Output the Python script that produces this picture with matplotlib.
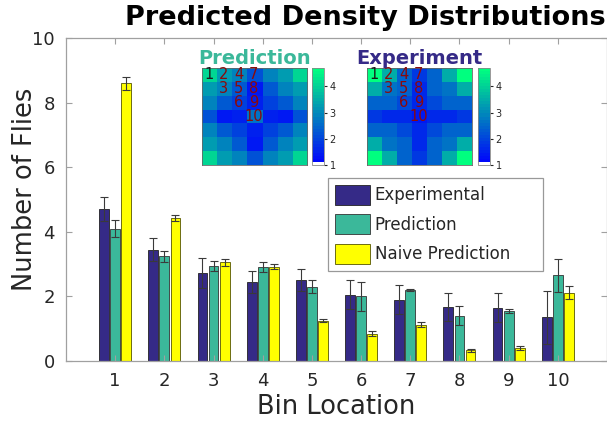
import numpy as np
import matplotlib
matplotlib.use("Agg")
import matplotlib.pyplot as plt
from matplotlib.colors import ListedColormap

# bar data
bins = np.arange(1, 11)
experimental = [4.7, 3.45, 2.72, 2.45, 2.5, 2.05, 1.9, 1.68, 1.65, 1.35]
experimental_err = [0.38, 0.35, 0.46, 0.33, 0.34, 0.45, 0.45, 0.44, 0.45, 0.82]
prediction = [4.1, 3.25, 2.95, 2.9, 2.3, 2.0, 2.2, 1.4, 1.55, 2.65]
prediction_err = [0.25, 0.17, 0.15, 0.15, 0.2, 0.45, 0.03, 0.3, 0.07, 0.5]
naive = [8.6, 4.42, 3.05, 2.92, 1.25, 0.85, 1.13, 0.33, 0.4, 2.12]
naive_err = [0.2, 0.1, 0.12, 0.08, 0.05, 0.07, 0.08, 0.04, 0.05, 0.2]

# arena cell (row, col) of each bin in one octant of the 7x7 grid
bin_cells = [(0, 0), (0, 1), (1, 1), (0, 2), (1, 2), (2, 2), (0, 3), (1, 3), (2, 3), (3, 3)]

c_exp = "#352a87"
c_pred = "#3bb89a"
c_naive = "#ffff00"
txt = "#262626"
spine = "#a0a0a0"


def arena_grid(values):
    # fill the symmetric 7x7 arena from the 10 bin values
    lookup = {cell: v for cell, v in zip(bin_cells, values)}
    grid = np.zeros((7, 7))
    for i in range(7):
        for j in range(7):
            a, b = sorted((min(i, 6 - i), min(j, 6 - j)))
            grid[i, j] = lookup[(a, b)]
    return grid


winter = plt.get_cmap("winter")(np.linspace(0, 1, 32))
winter[0] = [1, 1, 1, 1]
cmap = ListedColormap(winter)

fig = plt.figure(figsize=(6.07, 4.21), dpi=100)
W, H = 607, 421
ax = fig.add_axes([66 / W, 1 - 361 / H, 541 / W, 323 / H])

w = 0.2
off = 0.225
ekw = dict(ecolor="#3a3a3a", elinewidth=0.8, capsize=3, capthick=0.8)
ax.bar(bins - off, experimental, w, yerr=experimental_err, color=c_exp,
       edgecolor="#222222", linewidth=0.6, label="Experimental", error_kw=ekw)
ax.bar(bins, prediction, w, yerr=prediction_err, color=c_pred,
       edgecolor="#333333", linewidth=0.6, label="Prediction", error_kw=ekw)
ax.bar(bins + off, naive, w, yerr=naive_err, color=c_naive,
       edgecolor="#555500", linewidth=0.6, label="Naive Prediction", error_kw=ekw)

ax.set_xlim(0, 11)
ax.set_ylim(0, 10)
ax.set_xticks(bins)
ax.set_yticks([0, 2, 4, 6, 8, 10])
ax.tick_params(direction="in", length=4, color=spine, labelsize=13,
               labelcolor=txt, top=True, right=True, pad=8)
for s in ax.spines.values():
    s.set_color(spine)
    s.set_linewidth(0.9)
ax.set_xlabel("Bin Location", fontsize=18.5, color=txt, labelpad=3)
ax.set_ylabel("Number of Flies", fontsize=18.5, color=txt)
ax.yaxis.set_label_coords(-0.052, 0.532)

leg = ax.legend(loc="upper left", bbox_to_anchor=(0.484, 0.467, 0.397, 0.1),
                mode="expand", fontsize=12,
                fancybox=False, edgecolor="#999999", framealpha=1,
                handlelength=2.1, handleheight=1.5, labelspacing=0.55,
                borderpad=0.4, handletextpad=0.3, borderaxespad=0)
leg.get_frame().set_linewidth(0.9)
for t in leg.get_texts():
    t.set_color(txt)

fig.text(606 / W, 1 - 18 / H, "Predicted Density Distributions", ha="right",
         va="center", fontsize=19.5, fontweight="bold", color="black")

vmax = max(experimental)
insets = [("Prediction", prediction, c_pred, 202, 312),
          ("Experiment", experimental, c_exp, 367, 478)]
for name, vals, col, x0, cbx in insets:
    hax = fig.add_axes([x0 / W, 1 - 165 / H, 105 / W, 97 / H])
    im = hax.imshow(arena_grid(vals), cmap=cmap, vmin=1, vmax=vmax, aspect="auto")
    hax.set_xticks([])
    hax.set_yticks([])
    for s in hax.spines.values():
        s.set_color("#666666")
        s.set_linewidth(0.6)
    for k, (r, c) in enumerate(bin_cells):
        hax.text(c - 0.05, r, str(k + 1), ha="center", va="center", fontsize=10.5,
                 color="#1a1a1a" if k == 0 else "#8b0a0a")
    hax.set_title(name, fontsize=14, fontweight="bold", color=col, pad=3)
    cax = fig.add_axes([cbx / W, 1 - 165 / H, 12 / W, 97 / H])
    cb = fig.colorbar(im, cax=cax, ticks=[1, 2, 3, 4])
    cb.outline.set_edgecolor("#888888")
    cb.outline.set_linewidth(0.6)
    cax.tick_params(labelsize=7, length=2, colors=txt, pad=2)

fig.savefig("out.png", dpi=100)
